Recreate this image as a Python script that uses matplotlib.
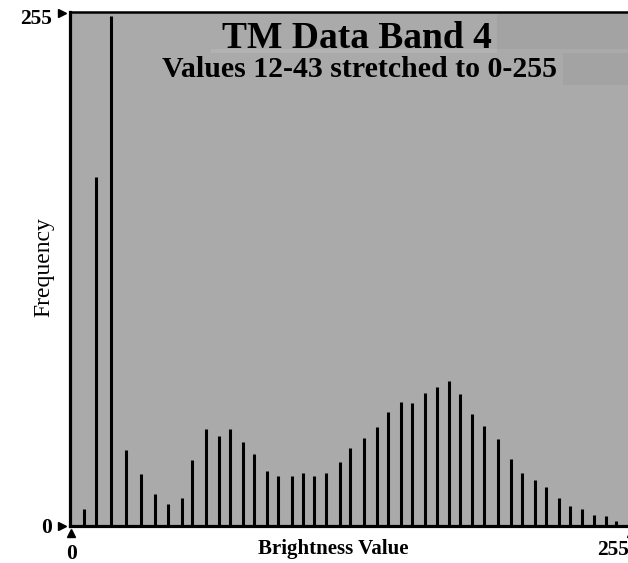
import matplotlib as mpl
mpl.use("Agg")
import matplotlib.pyplot as plt
from matplotlib.patches import Rectangle

# ── data ───────────────────────────────────────────────────────
brightness = [6.4, 12.0, 18.7, 25.6, 32.4, 38.7, 44.8, 51.0, 55.9, 62.2,
              68.2, 73.1, 79.2, 84.1, 90.2, 95.1, 101.3, 106.7, 111.5, 117.0,
              123.3, 128.0, 134.2, 140.4, 145.2, 151.4, 156.2, 162.4, 167.7, 173.3,
              178.1, 183.7, 189.2, 195.5, 201.5, 206.4, 212.5, 217.4, 223.6, 228.4,
              234.0, 239.3, 244.8, 249.7]
frequency = [8.5, 173.3, 253.6, 37.7, 25.6, 15.9, 10.6, 13.6, 32.5, 48.1,
             44.5, 48.1, 41.5, 35.5, 27.2, 24.9, 24.9, 26.4, 24.9, 26.4,
             31.7, 38.5, 43.6, 49.0, 56.4, 61.7, 60.9, 66.2, 69.2, 72.1,
             65.5, 55.7, 49.6, 43.0, 33.2, 26.4, 22.7, 19.1, 13.8, 10.0,
             8.5, 5.5, 4.8, 2.5]

TITLE = "TM Data Band 4"
SUBTITLE = "Values 12-43 stretched to 0-255"
XLABEL = "Brightness Value"
YLABEL = "Frequency"

BG = "#aaaaaa"
SERIF = "Liberation Serif"

fig = plt.figure(figsize=(6.28, 5.63), dpi=100)
ax = fig.add_axes([70 / 628, 37.3 / 563, 558 / 628, 513.2 / 563])
ax.set_facecolor(BG)
ax.set_xlim(0, 255)
ax.set_ylim(0, 255.3)

ax.vlines(brightness, 0, frequency, colors="black", linewidth=2.2, zorder=3)

for side in ("left", "bottom"):
    ax.spines[side].set_linewidth(2.3)
ax.spines["top"].set_linewidth(1.8)
ax.spines["right"].set_visible(False)
ax.set_xticks([])
ax.set_yticks([])

# subtle title-box shading left over from the original image
shades = [
    (0.765, 0.9289, 0.235, 0.0682, "#a3a3a3"),
    (0.883, 0.8587, 0.117, 0.0624, "#a3a3a3"),
    (0.2527, 0.9211, 0.5125, 0.0078, "#b2b2b2"),
]
for x0, y0, w, h, c in shades:
    ax.add_patch(Rectangle((x0, y0), w, h, transform=ax.transAxes,
                           facecolor=c, edgecolor="none", zorder=1))

tk = dict(fontfamily=SERIF, fontweight="bold", fontsize=15.5, color="black")
ax.annotate("0", xy=(0, 0), xytext=(-13.2, -5.5), textcoords="offset points",
            ha="right", va="baseline", annotation_clip=False, **tk)
ax.annotate("255", xy=(0, 255), xytext=(-13, -7.9), textcoords="offset points",
            ha="right", va="baseline", annotation_clip=False, **tk)
ax.annotate("0", xy=(0, 0), xytext=(1.1, -24), textcoords="offset points",
            ha="center", va="baseline", annotation_clip=False, **tk)
# the reference crops this label at the right edge, too
ax.annotate("255", xy=(255, 0), xytext=(-22.3, -21), textcoords="offset points",
            ha="left", va="baseline", annotation_clip=False, **tk)

# little arrowheads marking the axis ends
arrow = dict(color="black", markersize=6, clip_on=False, linestyle="none", zorder=5)
ax.plot([-3.5], [0], marker=">", **arrow)
ax.plot([-3.5], [255], marker=">", **arrow)
ax.plot([0.3], [-3.7], marker="^", **arrow)
ax.plot([256.5], [-3.7], marker="^", **arrow)

ax.text(0.4713, -0.0557, XLABEL, transform=ax.transAxes, ha="center", va="baseline",
        fontfamily=SERIF, fontweight="bold", fontsize=15)
ax.text(-0.0466, 0.504, YLABEL, transform=ax.transAxes, ha="center", va="center",
        rotation=90, fontfamily=SERIF, fontsize=17)
ax.text(0.514, 0.9314, TITLE, transform=ax.transAxes, ha="center", va="baseline",
        fontfamily=SERIF, fontweight="bold", fontsize=27, zorder=4)
ax.text(0.518, 0.8749, SUBTITLE, transform=ax.transAxes, ha="center", va="baseline",
        fontfamily=SERIF, fontweight="bold", fontsize=21.5, zorder=4)

fig.savefig("out.png", dpi=100)
